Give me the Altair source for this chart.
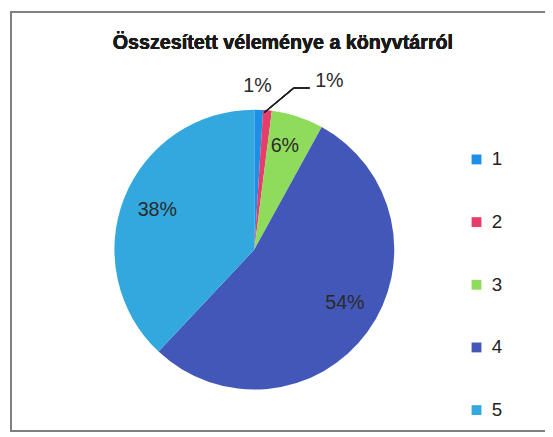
import altair as alt
import pandas as pd

categories = ["1", "2", "3", "4", "5"]
values = [1, 1, 6, 54, 38]
labels = ["1%", "1%", "6%", "54%", "38%"]
colors = ["#1e8fe6", "#e63d6b", "#8fdb5c", "#4257b8", "#33a8de"]
title_text = "Összesített véleménye a könyvtárról"

df = pd.DataFrame({"cat": categories, "value": values, "label": labels})

FONT = "Liberation Sans"
CX, CY, R = 250, 242, 142

base = alt.Chart(df).transform_stack(
    stack="value", groupby=[], as_=["t0", "t1"], sort=[alt.SortField("cat")]
).transform_calculate(mid="(datum.t0 + datum.t1) / 2")

theta_scale = alt.Scale(domain=[0, 100], range=[0, 6.283185307])

color = alt.Color(
    "cat:N",
    scale=alt.Scale(domain=categories, range=colors),
    legend=alt.Legend(
        title=None,
        orient="none",
        legendX=466,
        legendY=141,
        symbolType="square",
        symbolSize=100,
        symbolStrokeWidth=0,
        labelFontSize=19,
        labelFont=FONT,
        labelColor="#222222",
        labelOffset=6,
        rowPadding=43.6,
        padding=0,
    ),
)

pie = base.mark_arc(radius=R, stroke=None).encode(
    theta=alt.Theta("t0:Q", scale=theta_scale),
    theta2="t1:Q",
    color=color,
    x=alt.value(CX),
    y=alt.value(CY),
)

def label_layer(cat, radius, dx=0, dy=0):
    return base.transform_filter(alt.datum.cat == cat).mark_text(
        radius=radius, dx=dx, dy=dy, font=FONT, fontSize=20, color="#2a2a2a",
        align="center", baseline="middle",
    ).encode(
        theta=alt.Theta("mid:Q", scale=theta_scale),
        text="label:N",
        x=alt.value(CX),
        y=alt.value(CY),
    )

texts = [
    label_layer("1", 166, dx=-2),
    label_layer("2", 172, dx=60),
    label_layer("3", 110, dx=-3),
    label_layer("4", 100, dx=11, dy=-4),
    label_layer("5", 108, dx=2),
]

leader1 = alt.Chart(df).mark_rule(color="#222222", strokeWidth=1.2).encode(
    x=alt.value(260), y=alt.value(103), x2=alt.value(290), y2=alt.value(78)
)
leader2 = alt.Chart(df).mark_rule(color="#222222", strokeWidth=1.2).encode(
    x=alt.value(290), y=alt.value(78), x2=alt.value(306), y2=alt.value(78)
)

border = alt.Chart(df).mark_rect(fill=None, stroke="#808080", strokeWidth=1.6).encode(
    x=alt.value(3), x2=alt.value(600), y=alt.value(1), y2=alt.value(426)
)

title = alt.Chart(df).mark_text(
    font=FONT, fontSize=20, fontWeight="bold", color="#1a1a1a",
    align="center", baseline="alphabetic",
).encode(x=alt.value(279), y=alt.value(38), text=alt.value(title_text))

chart = alt.layer(border, pie, *texts, leader1, leader2, title).properties(
    width=545, height=429, padding=0, autosize=alt.AutoSizeParams(type="none"),
    background="white",
).configure_view(stroke=None)

chart.save("out.html", embed_options={"renderer": "svg", "actions": False})
